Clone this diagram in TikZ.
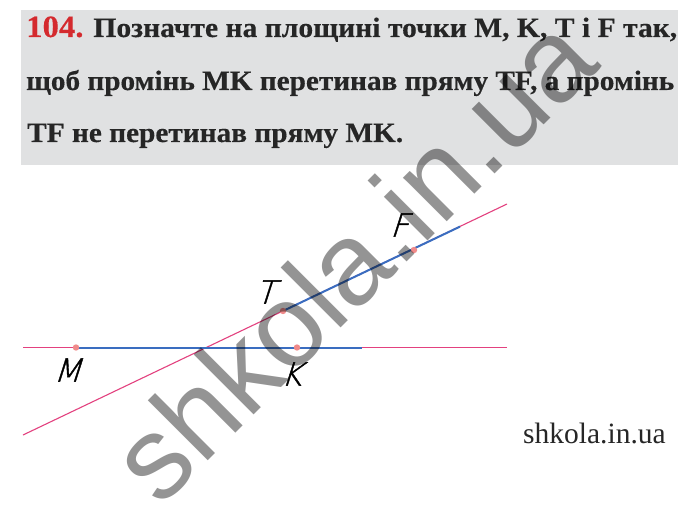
\documentclass[tikz,border=0pt]{standalone}
\usepackage{fontspec}
\setmainfont{Liberation Serif}
\setsansfont{Liberation Sans}
\newfontfamily\lblfont[FakeSlant=0.32,FakeBold=1.2]{DejaVu Sans ExtraLight}
\newfontfamily\titlefont{Liberation Serif}[BoldFeatures={FakeBold=0.35}]
\usepackage{graphicx}
\definecolor{boxgray}{HTML}{E0E1E2}
\definecolor{txtgray}{HTML}{262626}
\definecolor{numred}{HTML}{D42A2E}
\definecolor{linepink}{HTML}{E3417F}
\definecolor{lineblue}{HTML}{3A6DC0}
\definecolor{ptpink}{HTML}{F08A8A}
\tikzset{
  titleline/.style={anchor=base west, inner sep=0pt, text=txtgray, font=\fontsize{28}{30}\selectfont\titlefont\bfseries},
  pinkline/.style={draw=linepink, line width=1.1pt},
  blueline/.style={draw=lineblue, line width=2pt},
  ptmark/.style={fill=ptpink, draw=none},
  ptlabel/.style={font=\fontsize{32}{32}\selectfont\lblfont, text=black, inner sep=0pt},
  watermark/.style={rotate=45, text=black, opacity=0.42, inner sep=0pt, font=\fontsize{117}{117}\selectfont\sffamily},
  site/.style={anchor=base west, inner sep=0pt, text=txtgray, font=\fontsize{29.5}{30}\selectfont}
}
\begin{document}
\begin{tikzpicture}[x=1pt,y=-1pt]
\useasboundingbox (0,0) rectangle (700,510);
\fill[white] (0,0) rectangle (700,510);
% task box
\fill[boxgray] (21,10) rectangle (678,165);
\node[titleline] (l1) at (26,37) {\resizebox{651pt}{\height}{{\color{numred}\fontsize{31}{31}\selectfont 104.} Позначте на площині точки M, K, T і F так,}};
\node[titleline] (l2) at (26,90) {\resizebox{648pt}{\height}{щоб промінь MK перетинав пряму TF, а промінь}};
\node[titleline] (l3) at (27,142) {\resizebox{376pt}{\height}{TF не перетинав пряму MK.}};
% points
\coordinate (A1) at (23,347.5);
\coordinate (A2) at (507,347.5);
\coordinate (B1) at (23,435);
\coordinate (B2) at (507,204);
\coordinate (M) at (76,347.5);
\coordinate (K) at (297,347.5);
\coordinate (E1) at (362,347.5);
\coordinate (T) at (283,311);
\coordinate (F) at (414,250);
\coordinate (E2) at (460,226.6);
\draw[pinkline] (A1) -- (A2);
\draw[pinkline] (B1) -- (B2);
\draw[blueline] (M) -- (E1);
\draw[blueline] (T) -- (E2);
\foreach \p in {M,K,T,F} \fill[ptmark] (\p) circle (3.2pt);
\node[ptlabel] (lM) at (67,370) {M};
\node[ptlabel] (lK) at (291,374) {K};
\node[ptlabel] (lT) at (265,292) {T};
\node[ptlabel] (lF) at (399,225) {F};
\node[site] (site) at (523,443) {shkola.in.ua};
% watermark
\node[watermark] (wm) at (352,258) {shkola.in.ua};
\end{tikzpicture}
\end{document}
